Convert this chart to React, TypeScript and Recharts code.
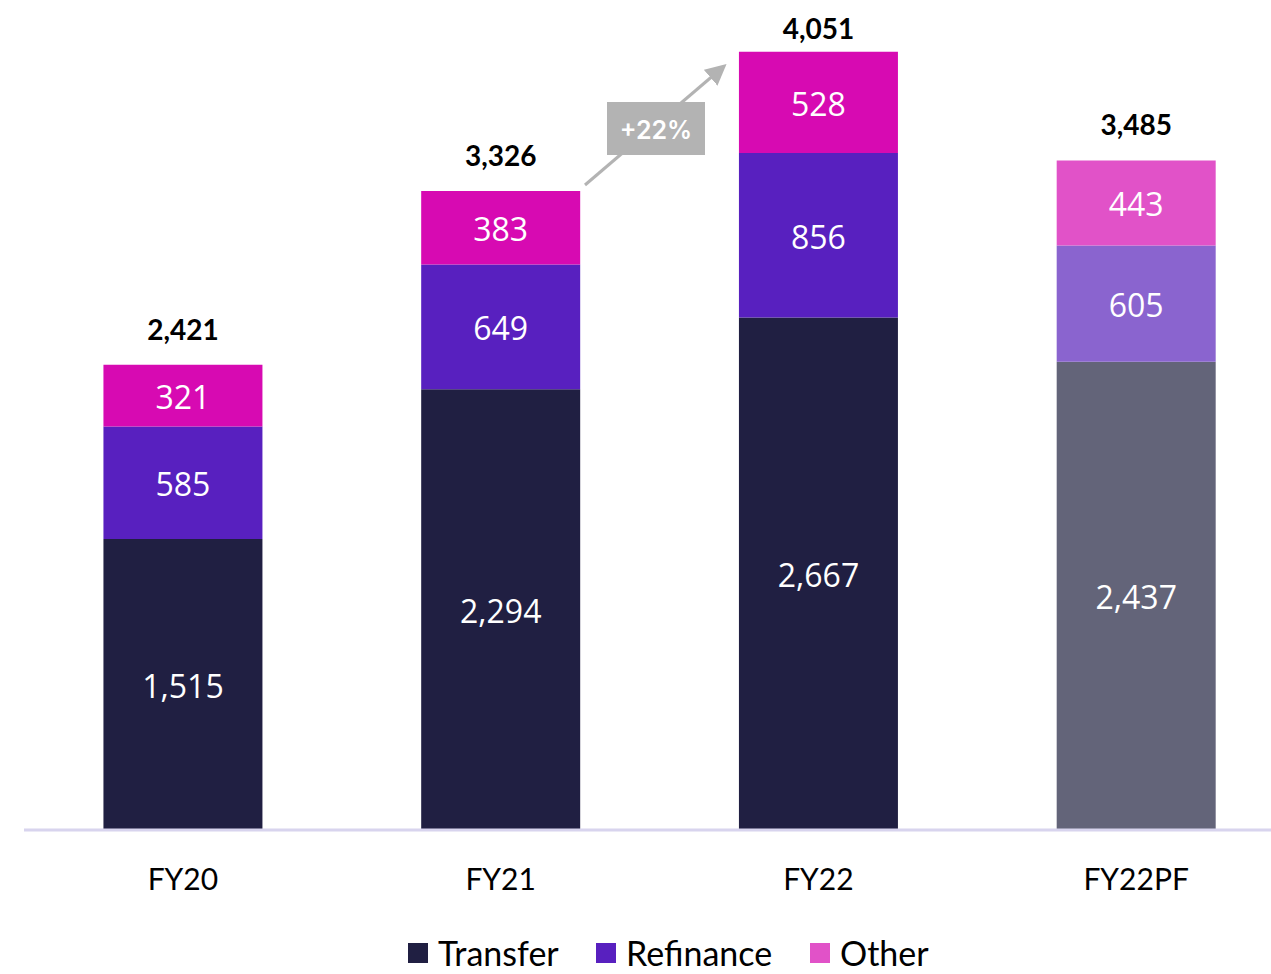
import { BarChart, Bar, XAxis, YAxis, Legend, LabelList, Cell, Customized } from 'recharts';

const categories = ['FY20', 'FY21', 'FY22', 'FY22PF'];
const transfer = [1515, 2294, 2667, 2437];
const refinance = [585, 649, 856, 605];
const other = [321, 383, 528, 443];
const totals = [2421, 3326, 4051, 3485];
const growthLabel = '+22%';

const colors = {
  transfer: '#201f42',
  refinance: '#5820bf',
  other: '#d70ab2',
  transferPF: '#636479',
  refinancePF: '#8a64cf',
  otherPF: '#e152c8',
};

const data = categories.map((name, i) => ({
  name,
  transfer: transfer[i],
  refinance: refinance[i],
  other: other[i],
  total: totals[i],
}));

const fmt = (v: number) => Number(v).toLocaleString('en-US');
const calibri = 'Lato, "Noto Sans", sans-serif';

const InnerLabel = (props: any) => {
  const { x, y, width, height, value } = props;
  return (
    <text
      x={x + width / 2}
      y={y + height / 2 + 1}
      fill="#ffffff"
      textAnchor="middle"
      dominantBaseline="central"
      fontFamily='"Open Sans", sans-serif'
      fontSize={32}
    >
      {fmt(value)}
    </text>
  );
};

const TotalLabel = (props: any) => {
  const { x, y, width, value } = props;
  return (
    <text
      x={x + width / 2}
      y={Math.max(y - 36, 20)}
      fill="#000000"
      textAnchor="middle"
      dominantBaseline="central"
      fontFamily={calibri}
      fontWeight={700}
      fontSize={28}
    >
      {fmt(value)}
    </text>
  );
};

const CategoryTick = (props: any) => {
  const { x, y, payload } = props;
  return (
    <text x={x} y={y + 48} textAnchor="middle" dominantBaseline="central" fill="#000" fontFamily={calibri} fontSize={30}>
      {payload.value}
    </text>
  );
};

const GrowthArrow = () => (
  <g>
    <defs>
      <marker id="arrowHead" markerWidth="7" markerHeight="7" refX="5" refY="3.5" orient="auto" markerUnits="strokeWidth">
        <path d="M0,0 L7,3.5 L0,7 Z" fill="#b3b3b3" />
      </marker>
    </defs>
    <line x1={577} y1={177} x2={714} y2={60} stroke="#b3b3b3" strokeWidth={3} markerEnd="url(#arrowHead)" />
    <rect x={599} y={94} width={98} height={53} fill="#b3b3b3" />
    <text x={648} y={122} textAnchor="middle" dominantBaseline="central" fill="#fff" fontFamily="Inter, sans-serif" fontWeight={600} fontSize={25}>
      {growthLabel}
    </text>
  </g>
);

const legendItems = [
  { label: 'Transfer', color: colors.transfer, width: 188 },
  { label: 'Refinance', color: colors.refinance, width: 214 },
  { label: 'Other', color: colors.otherPF, width: 140 },
];

const LegendContent = () => (
  <div style={{ display: 'flex', alignItems: 'center', paddingLeft: 384, paddingTop: 28, lineHeight: '34px' }}>
    {legendItems.map((it) => (
      <div key={it.label} style={{ display: 'flex', alignItems: 'center', width: it.width, flex: 'none' }}>
        <span style={{ width: 20, height: 20, background: it.color, display: 'inline-block', marginRight: 10 }} />
        <span style={{ fontFamily: calibri, fontSize: 34, lineHeight: '34px', color: '#000', whiteSpace: 'nowrap' }}>{it.label}</span>
      </div>
    ))}
  </div>
);

export default function App() {
  return (
    <div style={{ position: 'absolute', left: 8, top: 8, width: 1290, height: 966, overflow: 'hidden', background: '#fff' }}>
      <style>{'html,body{overflow:hidden}'}</style>
      <BarChart
        width={1287}
        height={966}
        data={data}
        margin={{ top: 15, right: 0, bottom: 0, left: 16 }}
        barCategoryGap="25%"
      >
        <XAxis
          dataKey="name"
          axisLine={{ stroke: '#d8d4ee', strokeWidth: 3 }}
          tickLine={false}
          tickSize={0}
          tickMargin={0}
          height={78}
          tick={<CategoryTick />}
          interval={0}
        />
        <YAxis hide domain={[0, 4200]} />
        <Legend verticalAlign="bottom" height={66} content={<LegendContent />} />
        <Bar dataKey="transfer" stackId="a" fill={colors.transfer} isAnimationActive={false}>
          {data.map((d, i) => (
            <Cell key={d.name} fill={i === 3 ? colors.transferPF : colors.transfer} />
          ))}
          <LabelList dataKey="transfer" content={<InnerLabel />} />
        </Bar>
        <Bar dataKey="refinance" stackId="a" fill={colors.refinance} isAnimationActive={false}>
          {data.map((d, i) => (
            <Cell key={d.name} fill={i === 3 ? colors.refinancePF : colors.refinance} />
          ))}
          <LabelList dataKey="refinance" content={<InnerLabel />} />
        </Bar>
        <Bar dataKey="other" stackId="a" fill={colors.other} isAnimationActive={false}>
          {data.map((d, i) => (
            <Cell key={d.name} fill={i === 3 ? colors.otherPF : colors.other} />
          ))}
          <LabelList dataKey="other" content={<InnerLabel />} />
          <LabelList dataKey="total" content={<TotalLabel />} />
        </Bar>
        <Customized component={<GrowthArrow />} />
      </BarChart>
    </div>
  );
}
